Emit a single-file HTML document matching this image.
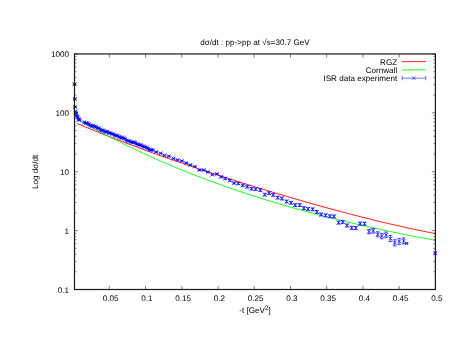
<!DOCTYPE html><html><head><meta charset="utf-8"><style>html,body{margin:0;padding:0;background:#fff;}svg{display:block;will-change:transform;font-family:"Liberation Sans",sans-serif;font-size:8.1px;fill:#000;text-rendering:geometricPrecision;}</style></head><body>
<svg width="463" height="358" viewBox="0 0 463 358">
<rect width="463" height="358" fill="#fff"/>
<polyline points="77.1,123.45 80.1,124.72 83.1,125.99 86.1,127.25 89.1,128.49 92.2,129.73 95.2,130.96 98.2,132.18 101.2,133.39 104.2,134.59 107.2,135.78 110.2,136.97 113.2,138.14 116.2,139.31 119.3,140.47 122.3,141.63 125.3,142.77 128.3,143.91 131.3,145.04 134.3,146.17 137.3,147.29 140.3,148.40 143.3,149.50 146.4,150.60 149.4,151.70 152.4,152.78 155.4,153.86 158.4,154.94 161.4,156.01 164.4,157.07 167.4,158.13 170.4,159.18 173.4,160.22 176.5,161.27 179.5,162.30 182.5,163.33 185.5,164.36 188.5,165.38 191.5,166.40 194.5,167.41 197.5,168.42 200.5,169.42 203.6,170.42 206.6,171.41 209.6,172.40 212.6,173.39 215.6,174.37 218.6,175.35 221.6,176.32 224.6,177.29 227.6,178.25 230.7,179.21 233.7,180.17 236.7,181.12 239.7,182.07 242.7,183.02 245.7,183.96 248.7,184.89 251.7,185.83 254.7,186.76 257.8,187.68 260.8,188.60 263.8,189.52 266.8,190.43 269.8,191.34 272.8,192.25 275.8,193.15 278.8,194.05 281.8,194.94 284.9,195.83 287.9,196.72 290.9,197.60 293.9,198.48 296.9,199.35 299.9,200.22 302.9,201.09 305.9,201.95 308.9,202.80 312.0,203.66 315.0,204.50 318.0,205.35 321.0,206.19 324.0,207.02 327.0,207.85 330.0,208.67 333.0,209.49 336.0,210.31 339.1,211.12 342.1,211.92 345.1,212.72 348.1,213.51 351.1,214.30 354.1,215.08 357.1,215.86 360.1,216.63 363.1,217.39 366.1,218.15 369.2,218.90 372.2,219.65 375.2,220.39 378.2,221.12 381.2,221.85 384.2,222.57 387.2,223.28 390.2,223.98 393.2,224.68 396.3,225.37 399.3,226.05 402.3,226.73 405.3,227.39 408.3,228.05 411.3,228.70 414.3,229.34 417.3,229.98 420.3,230.60 423.4,231.21 426.4,231.82 429.4,232.42 432.4,233.00 435.4,233.58" fill="none" stroke="#ff0000" stroke-width="0.9"/>
<polyline points="77.4,119.42 80.4,121.13 83.4,122.82 86.4,124.50 89.4,126.16 92.4,127.80 95.5,129.43 98.5,131.04 101.5,132.64 104.5,134.22 107.5,135.79 110.5,137.34 113.5,138.88 116.5,140.40 119.5,141.90 122.5,143.39 125.5,144.87 128.5,146.33 131.6,147.78 134.6,149.21 137.6,150.63 140.6,152.04 143.6,153.43 146.6,154.81 149.6,156.17 152.6,157.52 155.6,158.86 158.6,160.19 161.6,161.50 164.6,162.80 167.7,164.08 170.7,165.35 173.7,166.62 176.7,167.86 179.7,169.10 182.7,170.32 185.7,171.53 188.7,172.73 191.7,173.92 194.7,175.10 197.7,176.26 200.7,177.41 203.8,178.55 206.8,179.68 209.8,180.80 212.8,181.91 215.8,183.01 218.8,184.09 221.8,185.17 224.8,186.24 227.8,187.29 230.8,188.33 233.8,189.37 236.8,190.39 239.9,191.41 242.9,192.41 245.9,193.41 248.9,194.39 251.9,195.37 254.9,196.33 257.9,197.29 260.9,198.24 263.9,199.18 266.9,200.11 269.9,201.03 272.9,201.94 276.0,202.84 279.0,203.74 282.0,204.62 285.0,205.50 288.0,206.37 291.0,207.23 294.0,208.08 297.0,208.93 300.0,209.77 303.0,210.59 306.0,211.42 309.0,212.23 312.1,213.04 315.1,213.83 318.1,214.63 321.1,215.41 324.1,216.19 327.1,216.95 330.1,217.72 333.1,218.47 336.1,219.22 339.1,219.96 342.1,220.69 345.1,221.42 348.2,222.14 351.2,222.86 354.2,223.56 357.2,224.26 360.2,224.96 363.2,225.65 366.2,226.33 369.2,227.00 372.2,227.67 375.2,228.33 378.2,228.99 381.2,229.64 384.3,230.28 387.3,230.92 390.3,231.55 393.3,232.18 396.3,232.80 399.3,233.41 402.3,234.02 405.3,234.62 408.3,235.22 411.3,235.81 414.3,236.39 417.3,236.97 420.4,237.54 423.4,238.11 426.4,238.67 429.4,239.23 432.4,239.78 435.4,240.32" fill="none" stroke="#00ff00" stroke-width="0.9"/>
<path d="M72.55,82.35L76.45,86.25M72.55,86.25L76.45,82.35M74.50,83.80L74.50,84.80M72.70,83.80L76.30,83.80M72.70,84.80L76.30,84.80M72.85,96.95L76.75,100.85M72.85,100.85L76.75,96.95M74.80,98.40L74.80,99.40M73.00,98.40L76.60,98.40M73.00,99.40L76.60,99.40M73.05,104.95L76.95,108.85M73.05,108.85L76.95,104.95M75.00,106.40L75.00,107.40M73.20,106.40L76.80,106.40M73.20,107.40L76.80,107.40M73.65,109.55L77.55,113.45M73.65,113.45L77.55,109.55M75.60,111.00L75.60,112.00M73.80,111.00L77.40,111.00M73.80,112.00L77.40,112.00M74.25,111.65L78.15,115.55M74.25,115.55L78.15,111.65M76.20,113.10L76.20,114.10M74.40,113.10L78.00,113.10M74.40,114.10L78.00,114.10M74.95,113.85L78.85,117.75M74.95,117.75L78.85,113.85M76.90,115.20L76.90,116.40M75.10,115.20L78.70,115.20M75.10,116.40L78.70,116.40M75.85,115.55L79.75,119.45M75.85,119.45L79.75,115.55M77.80,116.90L77.80,118.10M76.00,116.90L79.60,116.90M76.00,118.10L79.60,118.10M76.75,117.25L80.65,121.15M76.75,121.15L80.65,117.25M78.70,118.60L78.70,119.80M76.90,118.60L80.50,118.60M76.90,119.80L80.50,119.80M77.55,118.15L81.45,122.05M77.55,122.05L81.45,118.15M79.50,119.50L79.50,120.70M77.70,119.50L81.30,119.50M77.70,120.70L81.30,120.70M82.45,120.33L86.35,124.23M82.45,124.23L86.35,120.33M84.40,121.88L84.40,122.68M82.60,121.88L86.20,121.88M82.60,122.68L86.20,122.68M83.90,121.22L87.80,125.12M83.90,125.12L87.80,121.22M85.85,122.77L85.85,123.57M84.05,122.77L87.65,122.77M84.05,123.57L87.65,123.57M85.35,121.23L89.25,125.13M85.35,125.13L89.25,121.23M87.30,122.78L87.30,123.58M85.50,122.78L89.10,122.78M85.50,123.58L89.10,123.58M86.80,122.27L90.70,126.17M86.80,126.17L90.70,122.27M88.75,123.82L88.75,124.62M86.95,123.82L90.55,123.82M86.95,124.62L90.55,124.62M88.25,123.56L92.15,127.46M88.25,127.46L92.15,123.56M90.20,125.11L90.20,125.91M88.40,125.11L92.00,125.11M88.40,125.91L92.00,125.91M89.70,124.25L93.60,128.15M89.70,128.15L93.60,124.25M91.65,125.80L91.65,126.60M89.85,125.80L93.45,125.80M89.85,126.60L93.45,126.60M91.15,123.70L95.05,127.60M91.15,127.60L95.05,123.70M93.10,125.25L93.10,126.05M91.30,125.25L94.90,125.25M91.30,126.05L94.90,126.05M92.60,124.51L96.50,128.41M92.60,128.41L96.50,124.51M94.55,126.06L94.55,126.86M92.75,126.06L96.35,126.06M92.75,126.86L96.35,126.86M94.05,124.95L97.95,128.85M94.05,128.85L97.95,124.95M96.00,126.50L96.00,127.30M94.20,126.50L97.80,126.50M94.20,127.30L97.80,127.30M95.50,126.25L99.40,130.15M95.50,130.15L99.40,126.25M97.45,127.80L97.45,128.60M95.65,127.80L99.25,127.80M95.65,128.60L99.25,128.60M96.95,126.28L100.85,130.18M96.95,130.18L100.85,126.28M98.90,127.83L98.90,128.63M97.10,127.83L100.70,127.83M97.10,128.63L100.70,128.63M98.40,127.61L102.30,131.51M98.40,131.51L102.30,127.61M100.35,129.16L100.35,129.96M98.55,129.16L102.15,129.16M98.55,129.96L102.15,129.96M99.85,128.47L103.75,132.37M99.85,132.37L103.75,128.47M101.80,130.02L101.80,130.82M100.00,130.02L103.60,130.02M100.00,130.82L103.60,130.82M101.30,128.43L105.20,132.33M101.30,132.33L105.20,128.43M103.25,129.98L103.25,130.78M101.45,129.98L105.05,129.98M101.45,130.78L105.05,130.78M102.75,129.62L106.65,133.52M102.75,133.52L106.65,129.62M104.70,131.17L104.70,131.97M102.90,131.17L106.50,131.17M102.90,131.97L106.50,131.97M104.20,130.03L108.10,133.93M104.20,133.93L108.10,130.03M106.15,131.58L106.15,132.38M104.35,131.58L107.95,131.58M104.35,132.38L107.95,132.38M105.65,129.68L109.55,133.58M105.65,133.58L109.55,129.68M107.60,131.23L107.60,132.03M105.80,131.23L109.40,131.23M105.80,132.03L109.40,132.03M107.10,131.08L111.00,134.98M107.10,134.98L111.00,131.08M109.05,132.63L109.05,133.43M107.25,132.63L110.85,132.63M107.25,133.43L110.85,133.43M108.55,131.15L112.45,135.05M108.55,135.05L112.45,131.15M110.50,132.70L110.50,133.50M108.70,132.70L112.30,132.70M108.70,133.50L112.30,133.50M110.00,131.96L113.90,135.86M110.00,135.86L113.90,131.96M111.95,133.51L111.95,134.31M110.15,133.51L113.75,133.51M110.15,134.31L113.75,134.31M111.45,132.30L115.35,136.20M111.45,136.20L115.35,132.30M113.40,133.85L113.40,134.65M111.60,133.85L115.20,133.85M111.60,134.65L115.20,134.65M112.90,133.50L116.80,137.40M112.90,137.40L116.80,133.50M114.85,135.05L114.85,135.85M113.05,135.05L116.65,135.05M113.05,135.85L116.65,135.85M114.35,133.66L118.25,137.56M114.35,137.56L118.25,133.66M116.30,135.21L116.30,136.01M114.50,135.21L118.10,135.21M114.50,136.01L118.10,136.01M115.80,133.76L119.70,137.66M115.80,137.66L119.70,133.76M117.75,135.31L117.75,136.11M115.95,135.31L119.55,135.31M115.95,136.11L119.55,136.11M117.25,134.95L121.15,138.85M117.25,138.85L121.15,134.95M119.20,136.50L119.20,137.30M117.40,136.50L121.00,136.50M117.40,137.30L121.00,137.30M118.70,135.88L122.60,139.78M118.70,139.78L122.60,135.88M120.65,137.43L120.65,138.23M118.85,137.43L122.45,137.43M118.85,138.23L122.45,138.23M120.15,135.69L124.05,139.59M120.15,139.59L124.05,135.69M122.10,137.24L122.10,138.04M120.30,137.24L123.90,137.24M120.30,138.04L123.90,138.04M121.60,136.11L125.50,140.01M121.60,140.01L125.50,136.11M123.55,137.66L123.55,138.46M121.75,137.66L125.35,137.66M121.75,138.46L125.35,138.46M123.05,136.94L126.95,140.84M123.05,140.84L126.95,136.94M125.00,138.49L125.00,139.29M123.20,138.49L126.80,138.49M123.20,139.29L126.80,139.29M124.50,138.38L128.40,142.28M124.50,142.28L128.40,138.38M126.45,139.93L126.45,140.73M124.65,139.93L128.25,139.93M124.65,140.73L128.25,140.73M125.95,139.00L129.85,142.90M125.95,142.90L129.85,139.00M127.90,140.55L127.90,141.35M126.10,140.55L129.70,140.55M126.10,141.35L129.70,141.35M127.40,139.07L131.30,142.97M127.40,142.97L131.30,139.07M129.35,140.62L129.35,141.42M127.55,140.62L131.15,140.62M127.55,141.42L131.15,141.42M128.85,140.03L132.75,143.93M128.85,143.93L132.75,140.03M130.80,141.58L130.80,142.38M129.00,141.58L132.60,141.58M129.00,142.38L132.60,142.38M130.30,140.55L134.20,144.45M130.30,144.45L134.20,140.55M132.25,142.10L132.25,142.90M130.45,142.10L134.05,142.10M130.45,142.90L134.05,142.90M131.75,140.41L135.65,144.31M131.75,144.31L135.65,140.41M133.70,141.96L133.70,142.76M131.90,141.96L135.50,141.96M131.90,142.76L135.50,142.76M133.20,140.56L137.10,144.46M133.20,144.46L137.10,140.56M135.15,142.11L135.15,142.91M133.35,142.11L136.95,142.11M133.35,142.91L136.95,142.91M134.65,142.06L138.55,145.96M134.65,145.96L138.55,142.06M136.60,143.61L136.60,144.41M134.80,143.61L138.40,143.61M134.80,144.41L138.40,144.41M136.10,142.52L140.00,146.42M136.10,146.42L140.00,142.52M138.05,144.07L138.05,144.87M136.25,144.07L139.85,144.07M136.25,144.87L139.85,144.87M137.55,142.81L141.45,146.71M137.55,146.71L141.45,142.81M139.50,144.36L139.50,145.16M137.70,144.36L141.30,144.36M137.70,145.16L141.30,145.16M139.00,143.20L142.90,147.10M139.00,147.10L142.90,143.20M140.95,144.75L140.95,145.55M139.15,144.75L142.75,144.75M139.15,145.55L142.75,145.55M140.45,144.10L144.35,148.00M140.45,148.00L144.35,144.10M142.40,145.65L142.40,146.45M140.60,145.65L144.20,145.65M140.60,146.45L144.20,146.45M141.90,144.80L145.80,148.70M141.90,148.70L145.80,144.80M143.85,146.35L143.85,147.15M142.05,146.35L145.65,146.35M142.05,147.15L145.65,147.15M143.35,145.09L147.25,148.99M143.35,148.99L147.25,145.09M145.30,146.64L145.30,147.44M143.50,146.64L147.10,146.64M143.50,147.44L147.10,147.44M144.80,145.74L148.70,149.64M144.80,149.64L148.70,145.74M146.75,147.29L146.75,148.09M144.95,147.29L148.55,147.29M144.95,148.09L148.55,148.09M146.25,146.61L150.15,150.51M146.25,150.51L150.15,146.61M148.20,148.16L148.20,148.96M146.40,148.16L150.00,148.16M146.40,148.96L150.00,148.96M147.70,147.86L151.60,151.76M147.70,151.76L151.60,147.86M149.65,149.41L149.65,150.21M147.85,149.41L151.45,149.41M147.85,150.21L151.45,150.21M149.15,148.02L153.05,151.92M149.15,151.92L153.05,148.02M151.10,149.57L151.10,150.37M149.30,149.57L152.90,149.57M149.30,150.37L152.90,150.37M150.60,148.01L154.50,151.91M150.60,151.91L154.50,148.01M152.55,149.56L152.55,150.36M150.75,149.56L154.35,149.56M150.75,150.36L154.35,150.36M154.25,150.05L158.15,153.95M154.25,153.95L158.15,150.05M156.20,151.60L156.20,152.40M154.40,151.60L158.00,151.60M154.40,152.40L158.00,152.40M158.65,151.35L162.55,155.25M158.65,155.25L162.55,151.35M160.60,152.90L160.60,153.70M158.80,152.90L162.40,152.90M158.80,153.70L162.40,153.70M162.55,153.45L166.45,157.35M162.55,157.35L166.45,153.45M164.50,155.00L164.50,155.80M162.70,155.00L166.30,155.00M162.70,155.80L166.30,155.80M166.85,154.35L170.75,158.25M166.85,158.25L170.75,154.35M168.80,155.90L168.80,156.70M167.00,155.90L170.60,155.90M167.00,156.70L170.60,156.70M171.55,156.55L175.45,160.45M171.55,160.45L175.45,156.55M173.50,158.10L173.50,158.90M171.70,158.10L175.30,158.10M171.70,158.90L175.30,158.90M175.65,157.95L179.55,161.85M175.65,161.85L179.55,157.95M177.60,159.50L177.60,160.30M175.80,159.50L179.40,159.50M175.80,160.30L179.40,160.30M179.95,159.05L183.85,162.95M179.95,162.95L183.85,159.05M181.90,160.60L181.90,161.40M180.10,160.60L183.70,160.60M180.10,161.40L183.70,161.40M184.25,161.05L188.15,164.95M184.25,164.95L188.15,161.05M186.20,162.60L186.20,163.40M184.40,162.60L188.00,162.60M184.40,163.40L188.00,163.40M188.45,162.95L192.35,166.85M188.45,166.85L192.35,162.95M190.40,164.50L190.40,165.30M188.60,164.50L192.20,164.50M188.60,165.30L192.20,165.30M192.95,164.65L196.85,168.55M192.95,168.55L196.85,164.65M194.90,166.20L194.90,167.00M193.10,166.20L196.70,166.20M193.10,167.00L196.70,167.00M197.45,168.15L201.35,172.05M197.45,172.05L201.35,168.15M199.40,169.70L199.40,170.50M197.60,169.70L201.20,169.70M197.60,170.50L201.20,170.50M201.75,168.15L205.65,172.05M201.75,172.05L205.65,168.15M203.70,169.64L203.70,170.56M201.90,169.64L205.50,169.64M201.90,170.56L205.50,170.56M205.85,170.05L209.75,173.95M205.85,173.95L209.75,170.05M207.80,171.48L207.80,172.52M206.00,171.48L209.60,171.48M206.00,172.52L209.60,172.52M210.45,172.65L214.35,176.55M210.45,176.55L214.35,172.65M212.40,174.01L212.40,175.19M210.60,174.01L214.20,174.01M210.60,175.19L214.20,175.19M214.95,172.05L218.85,175.95M214.95,175.95L218.85,172.05M216.90,173.35L216.90,174.65M215.10,173.35L218.70,173.35M215.10,174.65L218.70,174.65M219.25,174.95L223.15,178.85M219.25,178.85L223.15,174.95M221.20,176.18L221.20,177.62M219.40,176.18L223.00,176.18M219.40,177.62L223.00,177.62M223.35,176.55L227.25,180.45M223.35,180.45L227.25,176.55M225.30,177.72L225.30,179.28M223.50,177.72L227.10,177.72M223.50,179.28L227.10,179.28M227.95,178.45L231.85,182.35M227.95,182.35L231.85,178.45M229.90,179.55L229.90,181.25M228.10,179.55L231.70,179.55M228.10,181.25L231.70,181.25M232.15,181.05L236.05,184.95M232.15,184.95L236.05,181.05M234.10,182.09L234.10,183.91M232.30,182.09L235.90,182.09M232.30,183.91L235.90,183.91M236.35,181.55L240.25,185.45M236.35,185.45L240.25,181.55M238.30,182.53L238.30,184.47M236.50,182.53L240.10,182.53M236.50,184.47L240.10,184.47M240.85,183.35L244.75,187.25M240.85,187.25L244.75,183.35M242.80,184.26L242.80,186.34M241.00,184.26L244.60,184.26M241.00,186.34L244.60,186.34M245.35,184.85L249.25,188.75M245.35,188.75L249.25,184.85M247.30,185.69L247.30,187.91M245.50,185.69L249.10,185.69M245.50,187.91L249.10,187.91M249.65,186.85L253.55,190.75M249.65,190.75L253.55,186.85M251.60,187.63L251.60,189.97M249.80,187.63L253.40,187.63M249.80,189.97L253.40,189.97M253.75,187.25L257.65,191.15M253.75,191.15L257.65,187.25M255.70,187.96L255.70,190.44M253.90,187.96L257.50,187.96M253.90,190.44L257.50,190.44M258.35,188.15L262.25,192.05M258.35,192.05L262.25,188.15M260.30,188.80L260.30,191.40M258.50,188.80L262.10,188.80M258.50,191.40L262.10,191.40M262.85,192.65L266.75,196.55M262.85,196.55L266.75,192.65M264.80,193.29L264.80,195.91M263.00,193.29L266.60,193.29M263.00,195.91L266.60,195.91M267.15,191.15L271.05,195.05M267.15,195.05L271.05,191.15M269.10,191.78L269.10,194.42M267.30,191.78L270.90,191.78M267.30,194.42L270.90,194.42M271.25,192.95L275.15,196.85M271.25,196.85L275.15,192.95M273.20,193.57L273.20,196.23M271.40,193.57L275.00,193.57M271.40,196.23L275.00,196.23M275.75,195.65L279.65,199.55M275.75,199.55L279.65,195.65M277.70,196.26L277.70,198.94M275.90,196.26L279.50,196.26M275.90,198.94L279.50,198.94M279.95,196.55L283.85,200.45M279.95,200.45L283.85,196.55M281.90,197.15L281.90,199.85M280.10,197.15L283.70,197.15M280.10,199.85L283.70,199.85M284.65,199.55L288.55,203.45M284.65,203.45L288.55,199.55M286.60,200.14L286.60,202.86M284.80,200.14L288.40,200.14M284.80,202.86L288.40,202.86M289.05,200.85L292.95,204.75M289.05,204.75L292.95,200.85M291.00,201.43L291.00,204.17M289.20,201.43L292.80,201.43M289.20,204.17L292.80,204.17M293.25,203.15L297.15,207.05M293.25,207.05L297.15,203.15M295.20,203.72L295.20,206.48M293.40,203.72L297.00,203.72M293.40,206.48L297.00,206.48M297.75,203.15L301.65,207.05M297.75,207.05L301.65,203.15M299.70,203.71L299.70,206.49M297.90,203.71L301.50,203.71M297.90,206.49L301.50,206.49M301.95,206.15L305.85,210.05M301.95,210.05L305.85,206.15M303.90,206.70L303.90,209.50M302.10,206.70L305.70,206.70M302.10,209.50L305.70,209.50M306.15,207.05L310.05,210.95M306.15,210.95L310.05,207.05M308.10,207.59L308.10,210.41M306.30,207.59L309.90,207.59M306.30,210.41L309.90,210.41M310.75,207.45L314.65,211.35M310.75,211.35L314.65,207.45M312.70,207.97L312.70,210.83M310.90,207.97L314.50,207.97M310.90,210.83L314.50,210.83M314.85,209.95L318.75,213.85M314.85,213.85L318.75,209.95M316.80,210.46L316.80,213.34M315.00,210.46L318.60,210.46M315.00,213.34L318.60,213.34M319.15,212.55L323.05,216.45M319.15,216.45L323.05,212.55M321.10,213.05L321.10,215.95M319.30,213.05L322.90,213.05M319.30,215.95L322.90,215.95M323.65,213.45L327.55,217.35M323.65,217.35L327.55,213.45M325.60,213.94L325.60,216.86M323.80,213.94L327.40,213.94M323.80,216.86L327.40,216.86M327.95,214.35L331.85,218.25M327.95,218.25L331.85,214.35M329.90,214.83L329.90,217.77M328.10,214.83L331.70,214.83M328.10,217.77L331.70,217.77M332.05,214.55L335.95,218.45M332.05,218.45L335.95,214.55M334.00,215.02L334.00,217.98M332.20,215.02L335.80,215.02M332.20,217.98L335.80,217.98M336.65,220.65L340.55,224.55M336.65,224.55L340.55,220.65M338.60,221.11L338.60,224.09M336.80,221.11L340.40,221.11M336.80,224.09L340.40,224.09M340.75,219.95L344.65,223.85M340.75,223.85L344.65,219.95M342.70,220.40L342.70,223.40M340.90,220.40L344.50,220.40M340.90,223.40L344.50,223.40M345.05,223.55L348.95,227.45M345.05,227.45L348.95,223.55M347.00,223.99L347.00,227.01M345.20,223.99L348.80,223.99M345.20,227.01L348.80,227.01M349.75,225.85L353.65,229.75M349.75,229.75L353.65,225.85M351.70,226.28L351.70,229.32M349.90,226.28L353.50,226.28M349.90,229.32L353.50,229.32M353.85,226.15L357.75,230.05M353.85,230.05L357.75,226.15M355.80,226.57L355.80,229.63M354.00,226.57L357.60,226.57M354.00,229.63L357.60,229.63M358.15,221.75L362.05,225.65M358.15,225.65L362.05,221.75M360.10,222.16L360.10,225.24M358.30,222.16L361.90,222.16M358.30,225.24L361.90,225.24M362.55,221.75L366.45,225.65M362.55,225.65L366.45,221.75M364.50,222.15L364.50,225.25M362.70,222.15L366.30,222.15M362.70,225.25L366.30,225.25M367.15,229.65L371.05,233.55M367.15,233.55L371.05,229.65M369.10,229.38L369.10,233.82M367.30,229.38L370.90,229.38M367.30,233.82L370.90,233.82M371.25,228.75L375.15,232.65M371.25,232.65L375.15,228.75M373.20,228.32L373.20,233.08M371.40,228.32L375.00,228.32M371.40,233.08L375.00,233.08M375.75,232.35L379.65,236.25M375.75,236.25L379.65,232.35M377.70,231.75L377.70,236.85M375.90,231.75L379.50,231.75M375.90,236.85L379.50,236.85M379.85,234.15L383.75,238.05M379.85,238.05L383.75,234.15M381.80,233.39L381.80,238.81M380.00,233.39L383.60,233.39M380.00,238.81L383.60,238.81M384.05,232.95L387.95,236.85M384.05,236.85L387.95,232.95M386.00,232.03L386.00,237.77M384.20,232.03L387.80,232.03M384.20,237.77L387.80,237.77M388.45,236.45L392.35,240.35M388.45,240.35L392.35,236.45M390.40,235.36L390.40,241.44M388.60,235.36L392.20,235.36M388.60,241.44L392.20,241.44M392.75,240.85L396.65,244.75M392.75,244.75L396.65,240.85M394.70,239.72L394.70,245.88M392.90,239.72L396.50,239.72M392.90,245.88L396.50,245.88M397.25,239.45L401.15,243.35M397.25,243.35L401.15,239.45M399.20,238.36L399.20,244.44M397.40,238.36L401.00,238.36M397.40,244.44L401.00,244.44M401.65,238.95L405.55,242.85M401.65,242.85L405.55,238.95M403.60,237.90L403.60,243.90M401.80,237.90L405.40,237.90M401.80,243.90L405.40,243.90M405.20,242.00L408.00,244.80M405.20,244.80L408.00,242.00M406.60,243.10L406.60,243.70M404.80,243.10L408.40,243.10M404.80,243.70L408.40,243.70M433.35,251.25L437.25,255.15M433.35,255.15L437.25,251.25M435.30,252.20L435.30,254.20M433.50,252.20L437.10,252.20M433.50,254.20L437.10,254.20" fill="none" stroke="#0000ff" stroke-width="0.7"/>
<path d="M109.30,289.5V285.9M109.30,53.95V57.550000000000004M145.54,289.5V285.9M145.54,53.95V57.550000000000004M181.77,289.5V285.9M181.77,53.95V57.550000000000004M218.00,289.5V285.9M218.00,53.95V57.550000000000004M254.24,289.5V285.9M254.24,53.95V57.550000000000004M290.47,289.5V285.9M290.47,53.95V57.550000000000004M326.70,289.5V285.9M326.70,53.95V57.550000000000004M362.94,289.5V285.9M362.94,53.95V57.550000000000004M399.17,289.5V285.9M399.17,53.95V57.550000000000004M435.40,289.5V285.9M435.40,53.95V57.550000000000004M74.5,289.50H78.1M435.4,289.50H431.79999999999995M74.5,271.77H76.4M435.4,271.77H433.5M74.5,261.40H76.4M435.4,261.40H433.5M74.5,254.05H76.4M435.4,254.05H433.5M74.5,248.34H76.4M435.4,248.34H433.5M74.5,243.68H76.4M435.4,243.68H433.5M74.5,239.73H76.4M435.4,239.73H433.5M74.5,236.32H76.4M435.4,236.32H433.5M74.5,233.31H76.4M435.4,233.31H433.5M74.5,230.61H78.1M435.4,230.61H431.79999999999995M74.5,212.89H76.4M435.4,212.89H433.5M74.5,202.52H76.4M435.4,202.52H433.5M74.5,195.16H76.4M435.4,195.16H433.5M74.5,189.45H76.4M435.4,189.45H433.5M74.5,184.79H76.4M435.4,184.79H433.5M74.5,180.85H76.4M435.4,180.85H433.5M74.5,177.43H76.4M435.4,177.43H433.5M74.5,174.42H76.4M435.4,174.42H433.5M74.5,171.72H78.1M435.4,171.72H431.79999999999995M74.5,154.00H76.4M435.4,154.00H433.5M74.5,143.63H76.4M435.4,143.63H433.5M74.5,136.27H76.4M435.4,136.27H433.5M74.5,130.56H76.4M435.4,130.56H433.5M74.5,125.90H76.4M435.4,125.90H433.5M74.5,121.96H76.4M435.4,121.96H433.5M74.5,118.54H76.4M435.4,118.54H433.5M74.5,115.53H76.4M435.4,115.53H433.5M74.5,112.84H78.1M435.4,112.84H431.79999999999995M74.5,95.11H76.4M435.4,95.11H433.5M74.5,84.74H76.4M435.4,84.74H433.5M74.5,77.38H76.4M435.4,77.38H433.5M74.5,71.68H76.4M435.4,71.68H433.5M74.5,67.01H76.4M435.4,67.01H433.5M74.5,63.07H76.4M435.4,63.07H433.5M74.5,59.66H76.4M435.4,59.66H433.5M74.5,56.64H76.4M435.4,56.64H433.5M74.5,53.95H78.1M435.4,53.95H431.79999999999995" fill="none" stroke="#000" stroke-width="0.5"/>
<rect x="74.5" y="53.95" width="360.9" height="235.55" fill="none" stroke="#1a1a1a" stroke-width="1.2"/>
<text x="110.70" y="301" text-anchor="middle">0.05</text>
<text x="146.94" y="301" text-anchor="middle">0.1</text>
<text x="183.17" y="301" text-anchor="middle">0.15</text>
<text x="219.40" y="301" text-anchor="middle">0.2</text>
<text x="255.64" y="301" text-anchor="middle">0.25</text>
<text x="291.87" y="301" text-anchor="middle">0.3</text>
<text x="328.10" y="301" text-anchor="middle">0.35</text>
<text x="364.34" y="301" text-anchor="middle">0.4</text>
<text x="400.57" y="301" text-anchor="middle">0.45</text>
<text x="436.80" y="301" text-anchor="middle">0.5</text>
<text x="69" y="293.00" text-anchor="end">0.1</text>
<text x="69" y="234.11" text-anchor="end">1</text>
<text x="69" y="175.22" text-anchor="end">10</text>
<text x="69" y="116.34" text-anchor="end">100</text>
<text x="69" y="57.45" text-anchor="end">1000</text>
<text x="255" y="45.2" text-anchor="middle">dσ/dt : pp-&gt;pp at √s=30.7 GeV</text>
<text x="255" y="312.5" text-anchor="middle">-t [GeV<tspan dy="-3" font-size="6.4">2</tspan><tspan dy="3">]</tspan></text>
<text transform="translate(38.4,171.9) rotate(-90)" text-anchor="middle">Log dσ/dt</text>
<text x="397.2" y="64.7" text-anchor="end">RGZ</text>
<text x="397.2" y="72.9" text-anchor="end">Cornwall</text>
<text x="397.2" y="81.10000000000001" text-anchor="end">ISR data experiment</text>
<path d="M402,61.7H425.7" stroke="#ff0000" stroke-width="0.9" fill="none"/>
<path d="M402,69.9H425.7" stroke="#00ff00" stroke-width="0.9" fill="none"/>
<path d="M402.2,78.15H425.7M402.2,76V80.3M425.7,76V80.3M412,76.35L415.6,79.95M412,79.95L415.6,76.35" stroke="#0000ff" stroke-width="0.55" fill="none"/>
</svg></body></html>
